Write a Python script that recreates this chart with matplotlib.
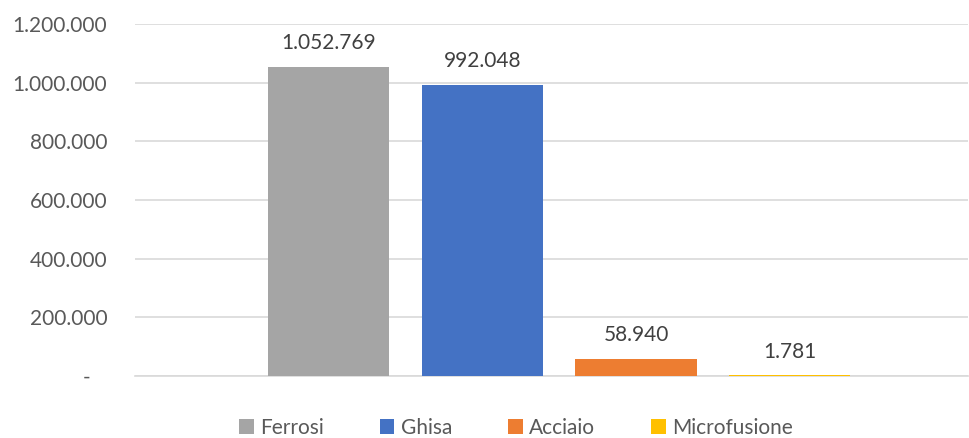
import matplotlib
matplotlib.use("Agg")
import matplotlib.pyplot as plt
from matplotlib.ticker import FuncFormatter

series = ["Ferrosi", "Ghisa", "Acciaio", "Microfusione"]
values = [1052769, 992048, 58940, 1781]
colors = ["#A5A5A5", "#4472C4", "#ED7D31", "#FFC000"]
yticks = [0, 200000, 400000, 600000, 800000, 1000000, 1200000]

plt.rcParams['font.family'] = ['Lato', 'DejaVu Sans']
txt = "#595959"
fs = 15

fig = plt.figure(figsize=(9.7, 4.38), dpi=100)
ax = fig.add_axes([135/970, 1-376/438, (968-135)/970, (376-24)/438])

def fmt(v):
    return f"{int(v):,}".replace(",", ".")

xs = list(range(len(series)))
bars = ax.bar(xs, values, width=0.79, color=colors, label=series, zorder=3)
for x, v in zip(xs, values):
    ax.annotate(fmt(v), (x, v), xytext=(0, 10), textcoords="offset points",
                ha="center", va="bottom", fontsize=fs, color="#404040")

ax.set_ylim(0, 1200000)
ax.set_xlim(-1.26, 4.16)
ax.set_yticks(yticks)
ax.yaxis.set_major_formatter(FuncFormatter(lambda v, p: "-   " if v == 0 else fmt(v)))
ax.tick_params(axis="y", length=0, pad=20, labelsize=fs, labelcolor=txt)
ax.set_xticks([])
ax.grid(axis="y", color="#D9D9D9", linewidth=1.2, zorder=0)
for s in ["top", "right", "left"]:
    ax.spines[s].set_visible(False)
ax.spines["bottom"].set_color("#D9D9D9")
ax.spines["bottom"].set_linewidth(1.2)

leg = fig.legend(handles=bars, labels=series, loc="center", bbox_to_anchor=(0.532, 1-428/438),
                 ncol=4, frameon=False, fontsize=fs, handlelength=0.7, handleheight=0.7,
                 columnspacing=2.7, handletextpad=0.3, labelcolor=txt)

fig.savefig("out.png", dpi=100)
